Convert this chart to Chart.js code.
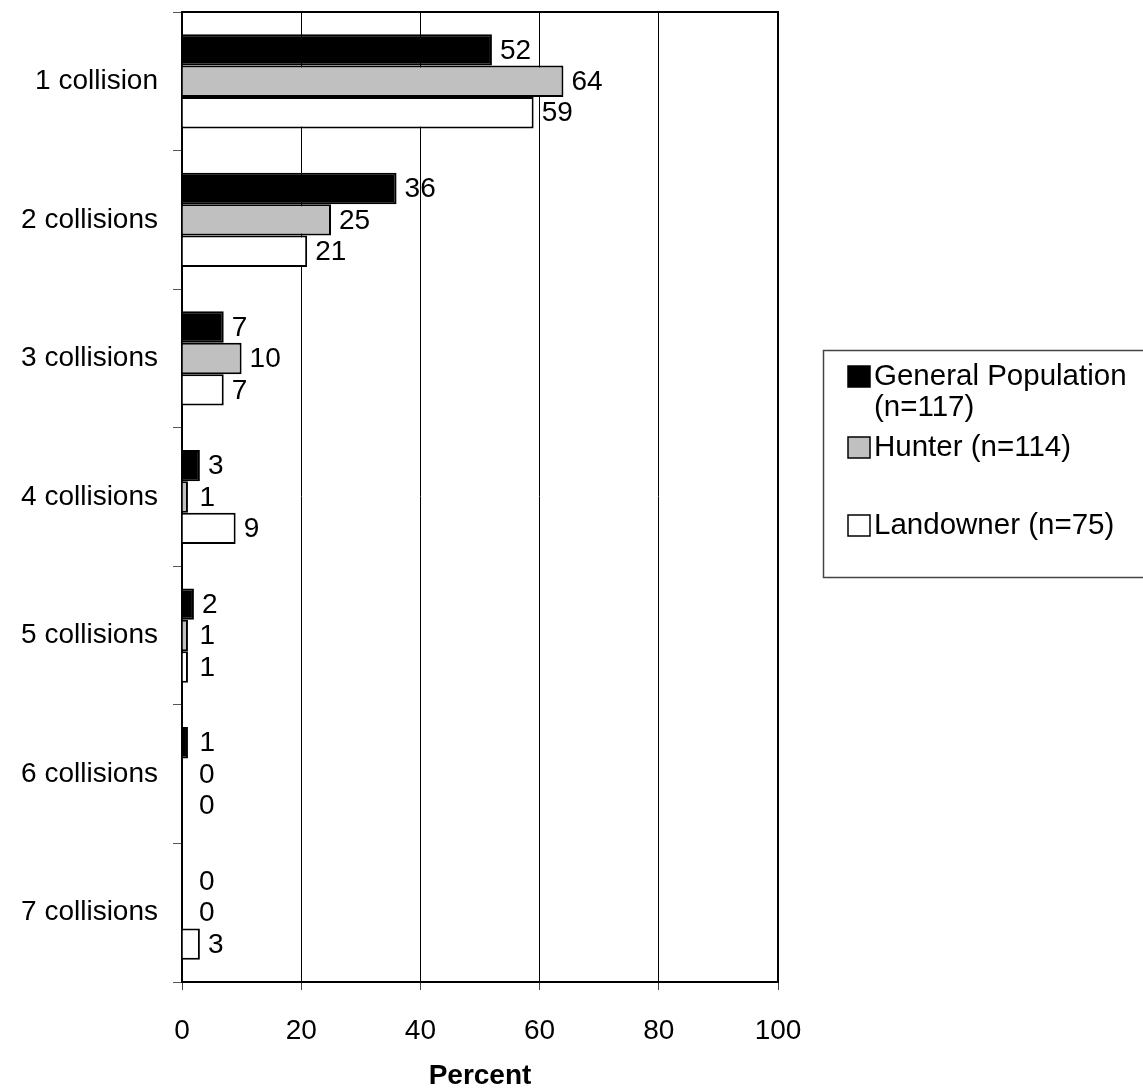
<!DOCTYPE html>
<html>
<head>
<meta charset="utf-8">
<script src="https://cdn.jsdelivr.net/npm/chart.js@4"></script>
<style>
html, body { margin: 0; padding: 0; background: #fff; }
#wrap { width: 1143px; height: 1090px; }
</style>
</head>
<body>
<div id="wrap"><canvas id="colisoesChart"></canvas></div>
<script>
// DADOS
const categories = ["1 collision", "2 collisions", "3 collisions", "4 collisions", "5 collisions", "6 collisions", "7 collisions"];
const generalPopulation = [52, 36, 7, 3, 2, 1, 0];
const hunter = [64, 25, 10, 1, 1, 0, 0];
const landowner = [59, 21, 7, 9, 1, 0, 3];
const seriesNames = ["General Population (n=117)", "Hunter (n=114)", "Landowner (n=75)"];
const xTicks = [0, 20, 40, 60, 80, 100];

const FONT = "'Liberation Sans', Arial, sans-serif";
Chart.defaults.font.family = FONT;
Chart.defaults.color = "#000";

// rótulos de valor ao lado das barras
const valueLabels = {
    id: "valueLabels",
    afterDatasetsDraw(chart) {
        const ctx = chart.ctx;
        ctx.save();
        ctx.font = "28px " + FONT;
        ctx.fillStyle = "#000";
        ctx.textAlign = "left";
        ctx.textBaseline = "middle";
        chart.data.datasets.forEach((ds, i) => {
            chart.getDatasetMeta(i).data.forEach((bar, j) => {
                const x = Math.max(bar.x, bar.base + 9) + 8;
                ctx.fillText(String(ds.data[j]), x, bar.y + 1);
            });
        });
        ctx.restore();
    }
};

// moldura da área do gráfico
const frame = {
    id: "frame",
    afterDraw(chart) {
        const { ctx, chartArea: a } = chart;
        ctx.save();
        ctx.strokeStyle = "#000";
        ctx.lineWidth = 2;
        ctx.beginPath();
        ctx.moveTo(a.left, a.top);
        ctx.lineTo(a.right, a.top);
        ctx.lineTo(a.right, a.bottom);
        ctx.stroke();
        ctx.restore();
    }
};

// legenda em caixa à direita
const boxLegend = {
    id: "boxLegend",
    afterDraw(chart) {
        const ctx = chart.ctx;
        const rows = [376, 447, 525];
        ctx.save();
        ctx.strokeStyle = "#444";
        ctx.lineWidth = 1.5;
        ctx.strokeRect(823.5, 350.5, 340, 227);
        ctx.font = "29.5px " + FONT;
        ctx.textBaseline = "middle";
        ctx.fillStyle = "#000";
        chart.data.datasets.forEach((ds, i) => {
            const y = rows[i];
            ctx.fillStyle = ds.backgroundColor;
            ctx.fillRect(848, y - 10, 22, 21);
            ctx.strokeStyle = "#000";
            ctx.lineWidth = 1.5;
            ctx.strokeRect(848, y - 10, 22, 21);
            ctx.fillStyle = "#000";
            // quebra de linha simples
            const words = ds.label.split(" ");
            const lines = [];
            let cur = "";
            words.forEach(w => {
                const t = cur ? cur + " " + w : w;
                if (cur && ctx.measureText(t).width > 265) { lines.push(cur); cur = w; }
                else cur = t;
            });
            lines.push(cur);
            lines.forEach((ln, k) => ctx.fillText(ln, 874, y + 1 + k * 31));
        });
        ctx.restore();
    }
};

const bw = c => (c.raw === 0 ? 0 : 2);

new Chart(document.getElementById("colisoesChart"), {
    type: "bar",
    data: {
        labels: categories,
        datasets: [
            { label: seriesNames[0], data: generalPopulation, backgroundColor: "#000000", borderColor: "#000", borderWidth: bw },
            { label: seriesNames[1], data: hunter, backgroundColor: "#c0c0c0", borderColor: "#000", borderWidth: bw },
            { label: seriesNames[2], data: landowner, backgroundColor: "#ffffff", borderColor: "#000", borderWidth: bw }
        ]
    },
    options: {
        indexAxis: "y",
        responsive: true,
        maintainAspectRatio: false,
        animation: false,
        devicePixelRatio: 1,
        categoryPercentage: 0.68,
        barPercentage: 1.0,
        layout: { padding: { top: 12, right: 365, left: 0, bottom: 0 } },
        plugins: {
            legend: { display: false },
            tooltip: { enabled: false }
        },
        scales: {
            x: {
                min: 0,
                max: 100,
                afterBuildTicks: s => { s.ticks = xTicks.map(v => ({ value: v })); },
                ticks: { font: { size: 28 }, padding: 24, maxRotation: 0 },
                grid: { color: "#000", lineWidth: 1, tickLength: 8, tickColor: "#444" },
                border: { color: "#000", width: 2 },
                title: { display: true, text: "Percent", font: { size: 28, weight: "bold", lineHeight: 1 }, padding: 0 },
                afterFit: s => { s.height = 108; }
            },
            y: {
                ticks: { font: { size: 28 }, padding: 15 },
                grid: { drawOnChartArea: false, offset: true, tickLength: 9, color: "#555" },
                border: { color: "#000", width: 2 },
                afterFit: s => { s.width = 182; s.paddingTop = 0; s.paddingBottom = 0; }
            }
        }
    },
    plugins: [valueLabels, frame, boxLegend]
});
</script>
</body>
</html>
